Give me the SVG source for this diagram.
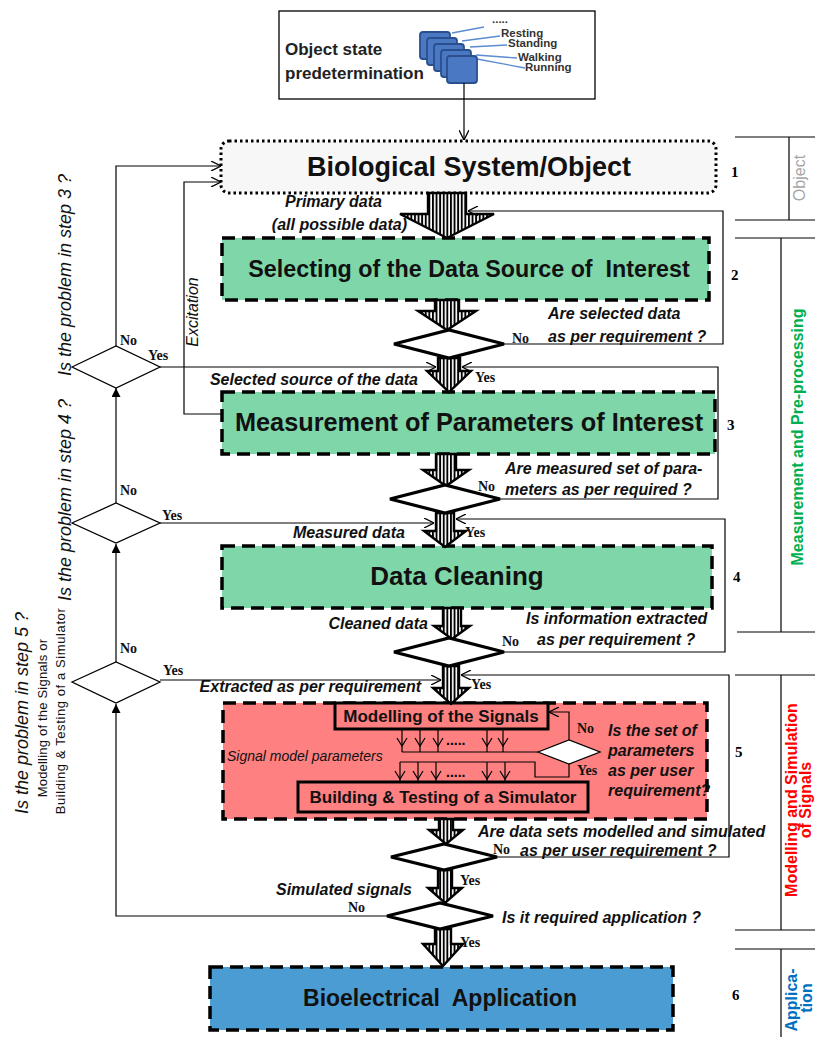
<svg xmlns="http://www.w3.org/2000/svg" width="815" height="1037" viewBox="0 0 815 1037">
<style>
.thin{fill:none;stroke:#000;stroke-width:1.2}
.blk{fill:url(#hatch);stroke:#000;stroke-width:2.4;stroke-linejoin:miter}
.dia{fill:#fff;stroke:#000;stroke-width:3.2}
.sdia{fill:#fff;stroke:#000;stroke-width:1.3}
.dash{stroke:#000;stroke-width:3.5;stroke-dasharray:13 7}
.sans{font-family:"Liberation Sans",Arial,sans-serif}
.lbl{font-family:"Liberation Sans",Arial,sans-serif;font-weight:bold;font-style:italic;font-size:16px;fill:#111}
.yn{font-family:"Liberation Serif","Times New Roman",serif;font-weight:bold;font-size:14px;fill:#111}
.ttl{font-family:"Liberation Sans",Arial,sans-serif;font-weight:bold;fill:#111}
.num{font-family:"Liberation Serif","Times New Roman",serif;font-weight:bold;font-size:15px}
.side{font-family:"Liberation Sans",Arial,sans-serif;font-weight:bold;font-size:16px}
.q{font-family:"Liberation Sans",Arial,sans-serif;font-style:italic;font-size:18px;fill:#111}
.sq{fill:#4a78c2;stroke:#2a4f8f;stroke-width:1.8}
.bl{stroke:#5b8bd0;stroke-width:1.3;fill:none}
</style>
<defs>
<pattern id="hatch" patternUnits="userSpaceOnUse" width="3.6" height="10">
<rect width="3.6" height="10" fill="#fff"/>
<rect width="1.9" height="10" fill="#000"/>
</pattern>
<marker id="v" viewBox="0 0 10 10" refX="10" refY="5" markerWidth="10" markerHeight="10" markerUnits="userSpaceOnUse" orient="auto">
<path d="M0,0 L10,5 L0,10" fill="none" stroke="#000" stroke-width="1.3"/>
</marker>
<marker id="tri" viewBox="0 0 10 10" refX="10" refY="5" markerWidth="9" markerHeight="9" markerUnits="userSpaceOnUse" orient="auto">
<path d="M0,0 L10,5 L0,10 z" fill="#000"/>
</marker>
</defs>

<!-- right side section labels -->
<g id="sections" fill="none" stroke="#000" stroke-width="1.2">
<path d="M735,137 H815 M735,220 H815 M789,137 V220"/>
<path d="M735,238 H815 M781,238 V632 M737,632 H815"/>
<path d="M735,675 H815 M781,675 V930 M735,930 H815"/>
<path d="M735,949 H815 M781,949 V1037"/>
</g>
<g id="section-labels">
<text class="sans" font-size="16" fill="#a6a6a6" text-anchor="middle" transform="translate(805,178) rotate(-90)">Object</text>
<text class="side" fill="#00b050" text-anchor="middle" transform="translate(803,437) rotate(-90)">Measurement and Pre-processing</text>
<text class="side" font-size="16" fill="#ff0000" text-anchor="middle" transform="translate(797,800) rotate(-90)">Modelling and Simulation</text>
<text class="side" font-size="15" fill="#ff0000" text-anchor="middle" transform="translate(811,800) rotate(-90)">of Signals</text>
<text class="side" font-size="15" fill="#0070c0" text-anchor="middle" transform="translate(797,1000) rotate(-90)">Applica-</text>
<text class="side" font-size="15" fill="#0070c0" text-anchor="middle" transform="translate(812,998) rotate(-90)">tion</text>
<text class="num" x="731" y="177">1</text>
<text class="num" x="731" y="280">2</text>
<text class="num" x="727" y="430">3</text>
<text class="num" x="733" y="582">4</text>
<text class="num" x="735" y="757">5</text>
<text class="num" x="732" y="1000">6</text>
</g>

<!-- top: object state predetermination -->
<g id="object-state">
<rect x="279" y="11" width="316" height="88" fill="#fff" stroke="#000" stroke-width="1.3"/>
<text class="sans" font-weight="bold" font-size="17" x="285" y="55" fill="#222">Object state</text>
<text class="sans" font-weight="bold" font-size="17" x="285" y="79" fill="#222">predetermination</text>
<line class="bl" x1="452" y1="33" x2="484" y2="27"/>
<line class="bl" x1="462" y1="41" x2="500" y2="36"/>
<line class="bl" x1="470" y1="47" x2="507" y2="45"/>
<line class="bl" x1="476" y1="55" x2="517" y2="58"/>
<line class="bl" x1="477" y1="59" x2="525" y2="68"/>
<rect class="sq" x="420" y="32" width="30" height="27" rx="3"/>
<rect class="sq" x="427" y="38" width="30" height="27" rx="3"/>
<rect class="sq" x="434" y="44" width="30" height="27" rx="3"/>
<rect class="sq" x="441" y="50" width="30" height="27" rx="3"/>
<rect class="sq" x="447" y="56" width="30" height="27" rx="3"/>
<g class="sans" font-weight="bold" font-size="11.5" fill="#333">
<text x="492" y="23">.....</text>
<text x="501" y="37">Resting</text>
<text x="508" y="47">Standing</text>
<text x="518" y="61">Walking</text>
<text x="525" y="71">Running</text>
</g>
</g>

<!-- main nodes -->
<g id="bio">
<rect x="221" y="141" width="495" height="52" rx="8" fill="#f7f7f7" stroke="#000" stroke-width="3" stroke-dasharray="2.5 3"/>
<text class="ttl" font-size="27" x="469" y="176" text-anchor="middle">Biological System/Object</text>
</g>
<g id="select">
<rect x="222" y="238" width="487" height="62" fill="#7fd6a8" class="dash"/>
<text class="ttl" font-size="23.3" x="469" y="277" text-anchor="middle">Selecting of the Data Source of&#160; Interest</text>
</g>
<g id="measure">
<rect x="222" y="392" width="493" height="62" fill="#7fd6a8" class="dash"/>
<text class="ttl" font-size="25.3" x="469" y="431" text-anchor="middle">Measurement of Parameters of Interest</text>
</g>
<g id="cleaning">
<rect x="222" y="546" width="490" height="62" fill="#7fd6a8" class="dash"/>
<text class="ttl" font-size="26" x="457" y="585" text-anchor="middle">Data Cleaning</text>
</g>
<g id="modelling">
<rect x="223" y="703" width="484" height="116" fill="#ff8080" class="dash"/>
<rect x="335" y="703" width="213" height="26" fill="#ff8080" stroke="#000" stroke-width="3"/>
<text class="ttl" font-size="17" x="441" y="722" text-anchor="middle">Modelling of the Signals</text>
<rect x="298" y="782" width="290" height="30" fill="#ff8080" stroke="#000" stroke-width="3"/>
<text class="ttl" font-size="17" x="443" y="803" text-anchor="middle">Building &amp; Testing of a Simulator</text>
<g class="thin">
<path d="M402,730 V752 M420,730 V752 M438,730 V752 M487,730 V752 M503,730 V752"/>
<path d="M397,738 L402,746 L407,738 M415,738 L420,746 L425,738 M433,738 L438,746 L443,738 M482,738 L487,746 L492,738 M498,738 L503,746 L508,738"/>
<path d="M402,752 H538"/>
<path d="M400,762 H535 V777 H569 V764"/>
<path d="M400,762 V782 M418,762 V782 M436,762 V782 M487,762 V782 M505,762 V782"/>
<path d="M395,771 L400,779 L405,771 M413,771 L418,779 L423,771 M431,771 L436,779 L441,771 M482,771 L487,779 L492,771 M500,771 L505,779 L510,771"/>
<path d="M569,740 V712 H549" marker-end="url(#v)"/>
</g>
<polygon class="sdia" points="538,752 569,740 600,752 569,764"/>
<text class="sans" font-size="14" font-weight="bold" x="446" y="745">.....</text>
<text class="sans" font-size="14" font-weight="bold" x="446" y="777">.....</text>
<text class="sans" font-style="italic" font-size="14" x="227" y="761" fill="#111">Signal model parameters</text>
<text class="yn" font-size="11" x="577" y="733">No</text>
<text class="yn" font-size="11" x="577" y="775">Yes</text>
<g class="lbl" font-size="15.5">
<text x="608" y="736">Is the set of</text>
<text x="608" y="756">parameters</text>
<text x="608" y="776">as per user</text>
<text x="608" y="796">requirement?</text>
</g>
</g>
<g id="application">
<rect x="210" y="967" width="463" height="63" fill="#4b9cd3" class="dash"/>
<text class="ttl" font-size="23" x="440" y="1006" text-anchor="middle">Bioelectrical&#160; Application</text>
</g>

<!-- connectors -->
<g id="connectors">
<line class="thin" x1="464" y1="83" x2="464" y2="140" marker-end="url(#v)"/>
<path class="blk" d="M428,193 L466,193 L466,214 L494,214 L447,238 L400,214 L428,214 Z"/>
<path class="blk" d="M435,300 L459,300 L459,311 L476,311 L447,330 L418,311 L435,311 Z"/>
<path class="blk" d="M438,358 L460,358 L460,371 L471,371 L449,392 L427,371 L438,371 Z"/>
<path class="blk" d="M436,454 L456,454 L456,470 L469,470 L446,486 L423,470 L436,470 Z"/>
<path class="blk" d="M436,513 L454,513 L454,531 L466,531 L445,547 L424,531 L436,531 Z"/>
<path class="blk" d="M443,608 L461,608 L461,626 L470,626 L452,639 L434,626 L443,626 Z"/>
<path class="blk" d="M443,666 L459,666 L459,688 L469,688 L451,704 L433,688 L443,688 Z"/>
<path class="blk" d="M439,819 L453,819 L453,830 L463,830 L446,844 L429,830 L439,830 Z"/>
<path class="blk" d="M438,870 L452,870 L452,888 L462,888 L445,903 L428,888 L438,888 Z"/>
<path class="blk" d="M435,929 L451,929 L451,944 L463,944 L443,966 L423,944 L435,944 Z"/>

<polygon class="dia" points="394,344 449,330 504,344 449,358"/>
<polygon class="dia" points="390,499 445,485 500,499 445,513"/>
<polygon class="dia" points="394,652 449,638 504,652 449,666"/>
<polygon class="dia" points="391,857 444,844 497,857 444,870"/>
<polygon class="dia" points="387,916 440,903 493,916 440,929"/>

<path class="thin" d="M504,344 H723 V211 H468" marker-end="url(#v)"/>
<path class="thin" d="M500,499 H718 V367 H462" marker-end="url(#v)"/>
<path class="thin" d="M504,652 H725 V519 H456" marker-end="url(#v)"/>
<path class="thin" d="M497,857 H729 V675 H461" marker-end="url(#v)"/>

<path class="thin" d="M160,367 H436" marker-end="url(#v)"/>
<path class="thin" d="M160,523 H434" marker-end="url(#v)"/>
<path class="thin" d="M160,680 H441" marker-end="url(#v)"/>

<path class="thin" d="M116,346 V166 H221" marker-end="url(#v)"/>
<path class="thin" d="M222,414 H184 V182 H221" marker-end="url(#v)"/>
<path class="thin" d="M116,503 V388" marker-end="url(#tri)"/>
<path class="thin" d="M116,662 V544" marker-end="url(#tri)"/>
<path class="thin" d="M387,916 H116 V704" marker-end="url(#tri)"/>

<polygon class="sdia" points="72,367 116,346 160,367 116,388"/>
<polygon class="sdia" points="72,523 116,503 160,523 116,543"/>
<polygon class="sdia" points="72,682 116,662 160,682 116,703"/>
</g>

<!-- connector labels -->
<g id="labels">
<text class="lbl" x="285" y="207">Primary data</text>
<text class="lbl" x="407" y="230" text-anchor="end">(all possible data)</text>
<text class="lbl" x="548" y="319">Are selected data</text>
<text class="lbl" x="548" y="342">as per requirement ?</text>
<text class="yn" x="512" y="343">No</text>
<text class="lbl" x="418" y="385" text-anchor="end">Selected source of the data</text>
<text class="yn" x="475" y="382">Yes</text>
<text class="lbl" x="505" y="474">Are measured set of para-</text>
<text class="lbl" x="505" y="495">meters as per required ?</text>
<text class="yn" x="478" y="491">No</text>
<text class="lbl" x="405" y="538" text-anchor="end">Measured data</text>
<text class="yn" x="465" y="537">Yes</text>
<text class="lbl" x="428" y="629" text-anchor="end">Cleaned data</text>
<text class="lbl" x="526" y="624">Is information extracted</text>
<text class="lbl" x="537" y="645">as per requirement ?</text>
<text class="yn" x="502" y="646">No</text>
<text class="lbl" x="421" y="692" text-anchor="end">Extracted as per requirement</text>
<text class="yn" x="471" y="689">Yes</text>
<text class="lbl" x="478" y="837">Are data sets modelled and simulated</text>
<text class="lbl" x="520" y="856">as per user requirement ?</text>
<text class="yn" x="493" y="854">No</text>
<text class="yn" x="460" y="885">Yes</text>
<text class="lbl" x="412" y="895" text-anchor="end">Simulated signals</text>
<text class="yn" x="348" y="912">No</text>
<text class="lbl" x="502" y="923">Is it required application ?</text>
<text class="yn" x="460" y="947">Yes</text>

<text class="yn" x="120" y="345">No</text>
<text class="yn" x="148" y="360">Yes</text>
<text class="yn" x="120" y="495">No</text>
<text class="yn" x="162" y="520">Yes</text>
<text class="yn" x="120" y="653">No</text>
<text class="yn" x="163" y="675">Yes</text>

<text class="sans" font-style="italic" font-size="16" fill="#111" text-anchor="middle" transform="translate(198,312) rotate(-90)">Excitation</text>
<text class="q" text-anchor="middle" transform="translate(71,275) rotate(-90)">Is the problem in step 3 ?</text>
<text class="q" text-anchor="middle" transform="translate(71,500) rotate(-90)">Is the problem in step 4 ?</text>
<text class="q" text-anchor="middle" transform="translate(28,713) rotate(-90)">Is the problem in step 5 ?</text>
<text class="sans" font-size="13" letter-spacing="0.2" fill="#111" text-anchor="middle" transform="translate(47,718) rotate(-90)">Modelling of the Signals or</text>
<text class="sans" font-size="13" letter-spacing="0.6" fill="#111" text-anchor="middle" transform="translate(65,711) rotate(-90)">Building &amp; Testing of a Simulator</text>
</g>
</svg>
